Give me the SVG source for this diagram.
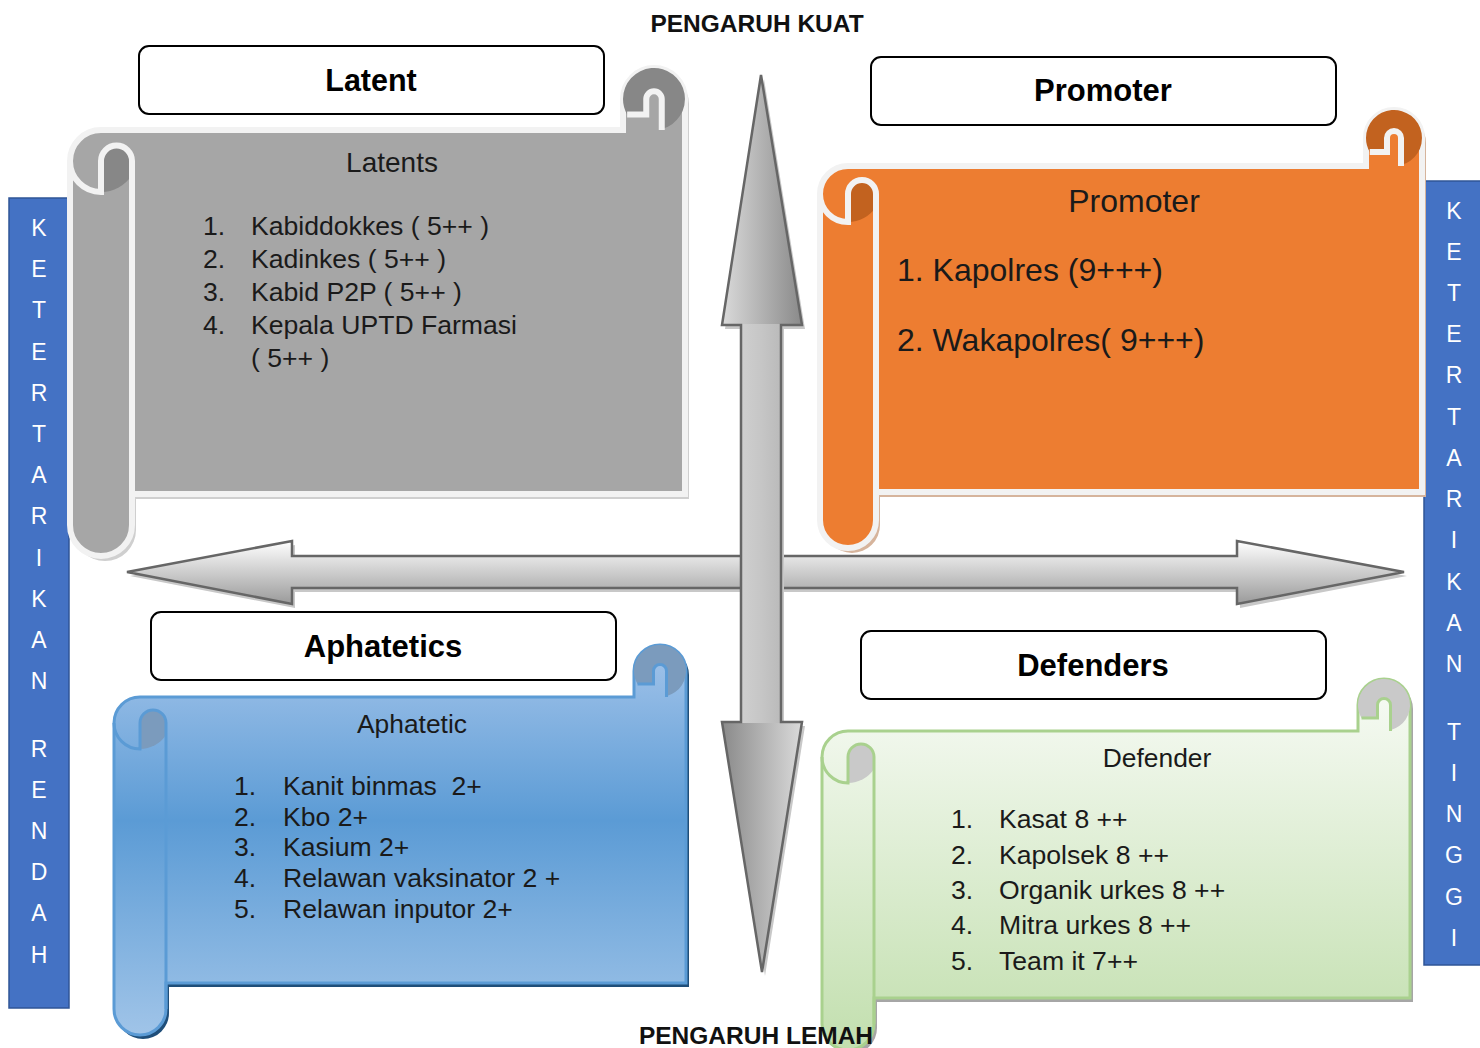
<svg xmlns="http://www.w3.org/2000/svg" width="1480" height="1048" viewBox="0 0 1480 1048">
<defs>
<linearGradient id="gBlue" gradientUnits="userSpaceOnUse" x1="0" y1="645" x2="0" y2="1035">
<stop offset="0" stop-color="#a3c4ea"/><stop offset="0.45" stop-color="#5b9bd5"/><stop offset="1" stop-color="#a0c4e8"/>
</linearGradient>
<linearGradient id="gGreen" gradientUnits="userSpaceOnUse" x1="0" y1="679" x2="0" y2="1050">
<stop offset="0" stop-color="#f8fbf6"/><stop offset="1" stop-color="#c2dfae"/>
</linearGradient>
<linearGradient id="gH" x1="0" y1="0" x2="0" y2="1">
<stop offset="0" stop-color="#ffffff"/><stop offset="1" stop-color="#9a9a9a"/>
</linearGradient>
<linearGradient id="gVt" gradientUnits="userSpaceOnUse" x1="722" y1="0" x2="802" y2="0">
<stop offset="0" stop-color="#dadada"/><stop offset="1" stop-color="#8a8a8a"/>
</linearGradient>
<linearGradient id="gVb" gradientUnits="userSpaceOnUse" x1="722" y1="0" x2="802" y2="0">
<stop offset="0" stop-color="#8a8a8a"/><stop offset="1" stop-color="#dadada"/>
</linearGradient>
<linearGradient id="gVs" gradientUnits="userSpaceOnUse" x1="741" y1="0" x2="781" y2="0">
<stop offset="0" stop-color="#cfcfcf"/><stop offset="0.5" stop-color="#c6c6c6"/><stop offset="1" stop-color="#bababa"/>
</linearGradient>
</defs>
<style>
.title{fill:#fff;stroke:#000;stroke-width:2}
.tt{font-family:"Liberation Sans",Arial,sans-serif;font-weight:bold;fill:#000;text-anchor:middle}
.tx{font-family:"Liberation Sans",Arial,sans-serif;fill:#1a1a1a}
.hd{font-family:"Liberation Sans",Arial,sans-serif;font-weight:bold;font-size:24.5px;fill:#111;text-anchor:middle}
.side{font-family:"Liberation Sans",Arial,sans-serif;font-size:23px;fill:#fff;text-anchor:middle}
.bar{fill:#4472c4;stroke:#2f5597;stroke-width:1.5}
.arr{fill:none;stroke:#666;stroke-width:2.5;stroke-linejoin:miter}
</style>

<!-- side bars -->
<g id="bar-left">
<rect class="bar" x="9" y="198" width="60" height="810"/>
<text class="side" x="39"><tspan x="39" y="236">K</tspan><tspan x="39" y="277">E</tspan><tspan x="39" y="318">T</tspan><tspan x="39" y="360">E</tspan><tspan x="39" y="401">R</tspan><tspan x="39" y="442">T</tspan><tspan x="39" y="483">A</tspan><tspan x="39" y="524">R</tspan><tspan x="39" y="566">I</tspan><tspan x="39" y="607">K</tspan><tspan x="39" y="648">A</tspan><tspan x="39" y="689">N</tspan><tspan x="39" y="757">R</tspan><tspan x="39" y="798">E</tspan><tspan x="39" y="839">N</tspan><tspan x="39" y="880">D</tspan><tspan x="39" y="921">A</tspan><tspan x="39" y="963">H</tspan></text>
</g>
<g id="bar-right">
<rect class="bar" x="1424" y="181" width="58" height="784"/>
<text class="side" x="1454"><tspan x="1454" y="219">K</tspan><tspan x="1454" y="260">E</tspan><tspan x="1454" y="301">T</tspan><tspan x="1454" y="342">E</tspan><tspan x="1454" y="383">R</tspan><tspan x="1454" y="425">T</tspan><tspan x="1454" y="466">A</tspan><tspan x="1454" y="507">R</tspan><tspan x="1454" y="548">I</tspan><tspan x="1454" y="590">K</tspan><tspan x="1454" y="631">A</tspan><tspan x="1454" y="672">N</tspan><tspan x="1454" y="740">T</tspan><tspan x="1454" y="781">I</tspan><tspan x="1454" y="822">N</tspan><tspan x="1454" y="863">G</tspan><tspan x="1454" y="905">G</tspan><tspan x="1454" y="946">I</tspan></text>
</g>

<!-- Latent scroll (gray) -->
<g id="latent-scroll">
<path transform="translate(4,5)" fill="#cfcfcf" d="M70,525 L70,161 A31,31 0 0 1 101,130 L623,130 L623,99 A31,31 0 0 1 685,99 L685,494 L132,494 L132,525 A31,31 0 0 1 70,525 Z"/>
<path fill="#a6a6a6" stroke="#f2f2f2" stroke-width="6" d="M70,525 L70,161 A31,31 0 0 1 101,130 L623,130 L623,99 A31,31 0 0 1 685,99 L685,494 L132,494 L132,525 A31,31 0 0 1 70,525 Z"/>
<path fill="#878787" d="M101,161 A15.5,15.5 0 0 1 132,161 L132,175 A37,37 0 0 1 101,192 Z"/>
<path fill="#878787" d="M623,99 A31,31 0 1 1 661.75,129 L661.75,99 A7.75,7.75 0 0 0 646.25,99 L646.25,114.5 L627.15,114.5 A31,31 0 0 1 623,99 Z"/>
<path fill="none" stroke="#f2f2f2" stroke-width="6" d="M70,161 A31,31 0 0 0 101,192 L101,161 A15.5,15.5 0 0 1 132,161 L132,525 M627.15,114.5 L646.25,114.5 L646.25,99 A7.75,7.75 0 0 1 661.75,99 L661.75,130"/>
<text class="tx" x="392" y="172" text-anchor="middle" style="font-size:28px">Latents</text>
<text class="tx" style="font-size:26.6px"><tspan x="203" y="235">1.</tspan><tspan x="251" y="235">Kabiddokkes ( 5++ )</tspan><tspan x="203" y="268">2.</tspan><tspan x="251" y="268">Kadinkes ( 5++ )</tspan><tspan x="203" y="301">3.</tspan><tspan x="251" y="301">Kabid P2P ( 5++ )</tspan><tspan x="203" y="334">4.</tspan><tspan x="251" y="334">Kepala UPTD Farmasi</tspan><tspan x="251" y="367">( 5++ )</tspan></text>
</g>

<!-- Promoter scroll (orange) -->
<g id="promoter-scroll">
<path transform="translate(4,5)" fill="#d6b49c" d="M820,520 L820,194 A28,28 0 0 1 848,166 L1366,166 L1366,138 A28,28 0 0 1 1422,138 L1422,492 L876,492 L876,520 A28,28 0 0 1 820,520 Z"/>
<path fill="#ed7d31" stroke="#f2f2f2" stroke-width="6" d="M820,520 L820,194 A28,28 0 0 1 848,166 L1366,166 L1366,138 A28,28 0 0 1 1422,138 L1422,492 L876,492 L876,520 A28,28 0 0 1 820,520 Z"/>
<path fill="#c2621f" d="M848,194 A14,14 0 0 1 876,194 L876,207 A33.6,33.6 0 0 1 848,222 Z"/>
<path fill="#c2621f" d="M1366,138 A28,28 0 1 1 1401,165.1 L1401,138 A7,7 0 0 0 1387,138 L1387,152 L1369.75,152 A28,28 0 0 1 1366,138 Z"/>
<path fill="none" stroke="#f2f2f2" stroke-width="6" d="M820,194 A28,28 0 0 0 848,222 L848,194 A14,14 0 0 1 876,194 L876,520 M1369.75,152 L1387,152 L1387,138 A7,7 0 0 1 1401,138 L1401,166"/>
<text class="tx" x="1134" y="212" text-anchor="middle" style="font-size:32px">Promoter</text>
<text class="tx" style="font-size:32px"><tspan x="897" y="281">1. Kapolres (9+++)</tspan><tspan x="897" y="351">2. Wakapolres( 9+++)</tspan></text>
</g>

<!-- Aphatetics scroll (blue) -->
<g id="aphatetic-scroll">
<path transform="translate(3,4)" fill="#1f4e79" d="M114,1009 L114,723 A26,26 0 0 1 140,697 L634,697 L634,671 A26,26 0 0 1 686,671 L686,983 L166,983 L166,1009 A26,26 0 0 1 114,1009 Z"/>
<path fill="url(#gBlue)" stroke="#5b9bd5" stroke-width="3" d="M114,1009 L114,723 A26,26 0 0 1 140,697 L634,697 L634,671 A26,26 0 0 1 686,671 L686,983 L166,983 L166,1009 A26,26 0 0 1 114,1009 Z"/>
<path fill="#7b9bbd" d="M140,723 A13,13 0 0 1 166,723 L166,735 A31,31 0 0 1 140,749 Z"/>
<path fill="#7b9bbd" d="M634,671 A26,26 0 1 1 666.5,696.2 L666.5,671 A6.5,6.5 0 0 0 653.5,671 L653.5,684 L637.5,684 A26,26 0 0 1 634,671 Z"/>
<path fill="none" stroke="#5b9bd5" stroke-width="3" d="M114,723 A26,26 0 0 0 140,749 L140,723 A13,13 0 0 1 166,723 L166,1009 M637.5,684 L653.5,684 L653.5,671 A6.5,6.5 0 0 1 666.5,671 L666.5,697"/>
<text class="tx" x="412" y="733" text-anchor="middle" style="font-size:26.4px">Aphatetic</text>
<text class="tx" style="font-size:26.6px"><tspan x="234" y="795">1.</tspan><tspan x="283" y="795">Kanit binmas &#160;2+</tspan><tspan x="234" y="826">2.</tspan><tspan x="283" y="826">Kbo 2+</tspan><tspan x="234" y="856">3.</tspan><tspan x="283" y="856">Kasium 2+</tspan><tspan x="234" y="887">4.</tspan><tspan x="283" y="887">Relawan vaksinator 2 +</tspan><tspan x="234" y="918">5.</tspan><tspan x="283" y="918">Relawan inputor 2+</tspan></text>
</g>

<!-- Defenders scroll (green) -->
<g id="defender-scroll">
<path transform="translate(3,4)" fill="#a6a6a6" d="M822,1024 L822,757 A26,26 0 0 1 848,731 L1358,731 L1358,705 A26,26 0 0 1 1410,705 L1410,998 L874,998 L874,1024 A26,26 0 0 1 822,1024 Z"/>
<path fill="url(#gGreen)" stroke="#a9d18e" stroke-width="3" d="M822,1024 L822,757 A26,26 0 0 1 848,731 L1358,731 L1358,705 A26,26 0 0 1 1410,705 L1410,998 L874,998 L874,1024 A26,26 0 0 1 822,1024 Z"/>
<path fill="#c9c9c9" d="M848,757 A13,13 0 0 1 874,757 L874,769 A31,31 0 0 1 848,783 Z"/>
<path fill="#c9c9c9" d="M1358,705 A26,26 0 1 1 1390.5,730.2 L1390.5,705 A6.5,6.5 0 0 0 1377.5,705 L1377.5,718 L1361.5,718 A26,26 0 0 1 1358,705 Z"/>
<path fill="none" stroke="#a9d18e" stroke-width="3" d="M822,757 A26,26 0 0 0 848,783 L848,757 A13,13 0 0 1 874,757 L874,1024 M1361.5,718 L1377.5,718 L1377.5,705 A6.5,6.5 0 0 1 1390.5,705 L1390.5,731"/>
<text class="tx" x="1157" y="767" text-anchor="middle" style="font-size:26.4px">Defender</text>
<text class="tx" style="font-size:26.6px"><tspan x="951" y="828">1.</tspan><tspan x="999" y="828">Kasat 8 ++</tspan><tspan x="951" y="864">2.</tspan><tspan x="999" y="864">Kapolsek 8 ++</tspan><tspan x="951" y="899">3.</tspan><tspan x="999" y="899">Organik urkes 8 ++</tspan><tspan x="951" y="934">4.</tspan><tspan x="999" y="934">Mitra urkes 8 ++</tspan><tspan x="951" y="970">5.</tspan><tspan x="999" y="970">Team it 7++</tspan></text>
</g>

<!-- connectors: axis arrows -->
<g id="connectors">
<polygon transform="translate(3,4)" fill="#c8c8c8" points="127,572 292,541 292,556 1237,556 1237,541 1404,572 1237,604 1237,588 292,588 292,604"/>
<polygon fill="url(#gH)" points="127,572 292,541 292,556 1237,556 1237,541 1404,572 1237,604 1237,588 292,588 292,604"/>
<polygon class="arr" points="127,572 292,541 292,556 1237,556 1237,541 1404,572 1237,604 1237,588 292,588 292,604"/>
<polygon transform="translate(3,4)" fill="#c8c8c8" points="761,75 802,325 781,325 781,722 802,722 762,972 722,722 741,722 741,325 722,325"/>
<polygon fill="url(#gVt)" points="761,75 802,325 722,325"/>
<polygon fill="url(#gVb)" points="722,722 802,722 762,972"/>
<rect fill="url(#gVs)" x="741" y="324" width="40" height="399"/>
<polygon class="arr" points="761,75 802,325 781,325 781,722 802,722 762,972 722,722 741,722 741,325 722,325"/>
</g>

<!-- titles -->
<g id="title-latent"><rect class="title" x="139" y="46" width="465" height="68" rx="10"/><text class="tt" x="371" y="91" style="font-size:30.5px">Latent</text></g>
<g id="title-promoter"><rect class="title" x="871" y="57" width="465" height="68" rx="10"/><text class="tt" x="1103" y="101" style="font-size:31px">Promoter</text></g>
<g id="title-aphatetics"><rect class="title" x="151" y="612" width="465" height="68" rx="10"/><text class="tt" x="383" y="657" style="font-size:31px">Aphatetics</text></g>
<g id="title-defenders"><rect class="title" x="861" y="631" width="465" height="68" rx="10"/><text class="tt" x="1093" y="676" style="font-size:31px">Defenders</text></g>

<g id="axis-labels">
<text class="hd" x="757" y="32">PENGARUH KUAT</text>
<text class="hd" x="756" y="1044">PENGARUH LEMAH</text>
</g>
</svg>
